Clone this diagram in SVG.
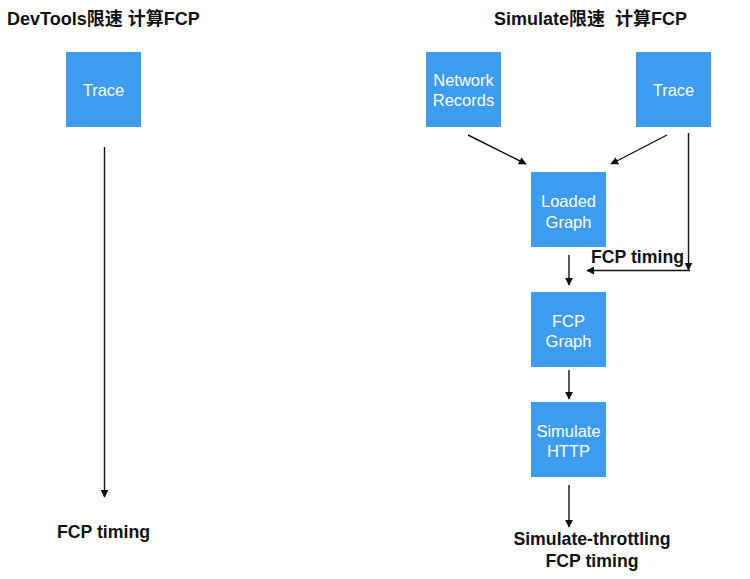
<svg xmlns="http://www.w3.org/2000/svg" width="750" height="579" viewBox="0 0 750 579">
<style>
.box{fill:#3d9bf0}
.bt{font-family:"Liberation Sans",Arial,sans-serif;font-size:16.5px;fill:#ffffff;text-anchor:middle}
.t{font-family:"Liberation Sans","Noto Sans CJK SC",sans-serif;font-size:18px;font-weight:bold;fill:#111111}
.lbl{font-family:"Liberation Sans",Arial,sans-serif;font-size:17.7px;font-weight:bold;fill:#111111}
.c{stroke:#111;stroke-width:1.4;fill:none;marker-end:url(#ah)}
</style>
<defs>
<marker id="ah" viewBox="0 0 10 10" refX="9" refY="5" markerWidth="8" markerHeight="8" markerUnits="userSpaceOnUse" orient="auto">
<path d="M0,0 L10,5 L0,10 z" fill="#111"/>
</marker>
</defs>
<rect width="750" height="579" fill="#ffffff"/>
<text class="t" x="7" y="25">DevTools限速 计算FCP</text>
<text class="t" x="494" y="25" xml:space="preserve">Simulate限速  计算FCP</text>
<g id="trace-left"><rect class="box" x="66" y="52" width="75" height="75"/><text class="bt" x="103.5" y="96">Trace</text></g>
<g id="network-records"><rect class="box" x="426" y="52" width="75" height="75"/><text class="bt" x="463.5" y="86">Network</text><text class="bt" x="463.5" y="106">Records</text></g>
<g id="trace-right"><rect class="box" x="636" y="52" width="75" height="75"/><text class="bt" x="673.5" y="96">Trace</text></g>
<g id="loaded-graph"><rect class="box" x="531" y="172" width="75" height="75"/><text class="bt" x="568.5" y="207">Loaded</text><text class="bt" x="568.5" y="228">Graph</text></g>
<g id="fcp-graph"><rect class="box" x="531" y="292" width="75" height="75"/><text class="bt" x="568.5" y="327">FCP</text><text class="bt" x="568.5" y="347">Graph</text></g>
<g id="simulate-http"><rect class="box" x="531" y="402" width="75" height="75"/><text class="bt" x="568.5" y="437">Simulate</text><text class="bt" x="568.5" y="457">HTTP</text></g>
<g id="connectors">
<line class="c" x1="104.5" y1="147" x2="104.5" y2="497"/>
<line class="c" x1="468" y1="135" x2="526" y2="164"/>
<line class="c" x1="667" y1="135" x2="611" y2="164"/>
<line class="c" x1="688.5" y1="133" x2="688.5" y2="270"/>
<path class="c" d="M690,270.5 L587,270.5"/>
<line class="c" x1="569" y1="255" x2="569" y2="285"/>
<line class="c" x1="569" y1="370" x2="569" y2="399"/>
<line class="c" x1="569" y1="485" x2="569" y2="527"/>
</g>
<text class="lbl" x="57" y="538">FCP timing</text>
<text class="lbl" x="591" y="263">FCP timing</text>
<text class="lbl" x="592" y="545" text-anchor="middle">Simulate-throttling</text>
<text class="lbl" x="592" y="567" text-anchor="middle">FCP timing</text>
</svg>
